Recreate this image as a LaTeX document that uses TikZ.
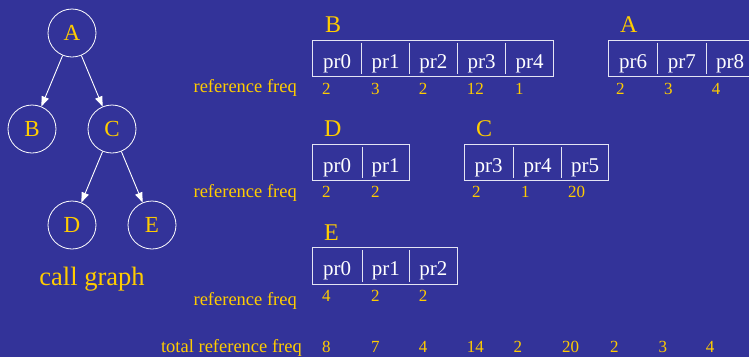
\documentclass[tikz,border=0pt]{standalone}
\usepackage{fontspec}
\setmainfont{Liberation Serif}
\usetikzlibrary{arrows.meta}
\definecolor{bg}{HTML}{333399}
\definecolor{gold}{HTML}{FFCC00}
\definecolor{boxline}{HTML}{E4E4F4}
\begin{document}
\begin{tikzpicture}[x=1pt,y=-1pt,
  gnode/.style={circle,draw=white,line width=0.8pt,minimum size=48pt,inner sep=0pt,text=gold,font=\rmfamily\fontsize{23}{23}\selectfont},
  arr/.style={draw=white,line width=0.9pt,-{Triangle[length=10pt,width=7.5pt]}},
  hdr/.style={anchor=base west,inner sep=0pt,text=gold,font=\rmfamily\fontsize{24}{24}\selectfont},
  boxst/.style={draw=boxline,line width=0.9pt,anchor=north west,inner sep=0pt,outer sep=0pt,minimum height=36.7pt},
  divst/.style={draw=boxline,line width=0.9pt},
  prtext/.style={anchor=base,inner sep=0pt,text=white,font=\rmfamily\fontsize{21}{21}\selectfont},
  num/.style={anchor=base west,inner sep=0pt,text=gold,font=\rmfamily\fontsize{17}{17}\selectfont},
  rlab/.style={anchor=base east,inner sep=0pt,text=gold,font=\rmfamily\fontsize{18.5}{18.5}\selectfont}]
\fill[bg] (0,0) rectangle (749,357);
\useasboundingbox (0,0) rectangle (749,357);

% call graph
\node[gnode] (A) at (72,33) {A};
\node[gnode] (B) at (32,129) {B};
\node[gnode] (C) at (112,129) {C};
\node[gnode] (D) at (72,225) {D};
\node[gnode] (E) at (152,225) {E};
\draw[arr] (A) -- (B);
\draw[arr] (A) -- (C);
\draw[arr] (C) -- (D);
\draw[arr] (C) -- (E);
\node[anchor=base,inner sep=0pt,text=gold,font=\rmfamily\fontsize{26.5}{26.5}\selectfont] (cg) at (92,285) {call graph};

% B box
\node[hdr] (hB) at (325,32.3) {B};
\node[boxst,minimum width=241pt] (boxB) at (312.3,40) {};
\draw[divst] (361.7,42.5) -- (361.7,74);
\draw[divst] (409.3,42.5) -- (409.3,74);
\draw[divst] (457.3,42.5) -- (457.3,74);
\draw[divst] (505.7,42.5) -- (505.7,74);
\node[prtext] (b0) at (337,68) {pr0};
\node[prtext] (b1) at (385.5,68) {pr1};
\node[prtext] (b2) at (433.3,68) {pr2};
\node[prtext] (b3) at (481.5,68) {pr3};
\node[prtext] (b4) at (529.5,68) {pr4};
\node[rlab] (rfB) at (297,92) {reference freq};
\node[num] (nb0) at (322,94) {2};
\node[num] (nb1) at (371,94) {3};
\node[num] (nb2) at (418.7,94) {2};
\node[num] (nb3) at (466.7,94) {12};
\node[num] (nb4) at (515,94) {1};

% A box
\node[hdr] (hA) at (620,32.3) {A};
\node[boxst,minimum width=146pt] (boxA) at (608.3,40) {};
\draw[divst] (657.7,42.5) -- (657.7,74);
\draw[divst] (706,42.5) -- (706,74);
\node[prtext] (a6) at (633,68) {pr6};
\node[prtext] (a7) at (681.8,68) {pr7};
\node[prtext] (a8) at (730,68) {pr8};
\node[num] (na6) at (616,94) {2};
\node[num] (na7) at (664,94) {3};
\node[num] (na8) at (711.7,94) {4};

% D box
\node[hdr] (hD) at (324,136.7) {D};
\node[boxst,minimum width=97pt] (boxD) at (312.3,144) {};
\draw[divst] (362,146.5) -- (362,178);
\node[prtext] (d0) at (337.2,172) {pr0};
\node[prtext] (d1) at (385.7,172) {pr1};
\node[rlab] (rfD) at (297,197) {reference freq};
\node[num] (nd0) at (322,197.3) {2};
\node[num] (nd1) at (371,197.3) {2};

% C box
\node[hdr] (hC) at (476,136.7) {C};
\node[boxst,minimum width=144.3pt] (boxC) at (464,144) {};
\draw[divst] (513.3,146.5) -- (513.3,178);
\draw[divst] (561.7,146.5) -- (561.7,178);
\node[prtext] (c3) at (488.7,172) {pr3};
\node[prtext] (c4) at (537.5,172) {pr4};
\node[prtext] (c5) at (585,172) {pr5};
\node[num] (nc3) at (472,197.3) {2};
\node[num] (nc4) at (521,197.3) {1};
\node[num] (nc5) at (568,197.3) {20};

% E box
\node[hdr] (hE) at (324,240.7) {E};
\node[boxst,minimum width=144.7pt] (boxE) at (312.3,247.7) {};
\draw[divst] (362,250.2) -- (362,282);
\draw[divst] (409.7,250.2) -- (409.7,282);
\node[prtext] (e0) at (337.2,275.7) {pr0};
\node[prtext] (e1) at (385.8,275.7) {pr1};
\node[prtext] (e2) at (433.3,275.7) {pr2};
\node[rlab] (rfE) at (297,305) {reference freq};
\node[num] (ne0) at (322,301.7) {4};
\node[num] (ne1) at (371,301.7) {2};
\node[num] (ne2) at (418.7,301.7) {2};

% totals
\node[rlab] (tot) at (302,352.7) {total reference freq};
\node[num] (t0) at (322,352.7) {8};
\node[num] (t1) at (371,352.7) {7};
\node[num] (t2) at (418.7,352.7) {4};
\node[num] (t3) at (466.7,352.7) {14};
\node[num] (t4) at (513.3,352.7) {2};
\node[num] (t5) at (562,352.7) {20};
\node[num] (t6) at (610,352.7) {2};
\node[num] (t7) at (658.3,352.7) {3};
\node[num] (t8) at (705.7,352.7) {4};
\end{tikzpicture}
\end{document}
